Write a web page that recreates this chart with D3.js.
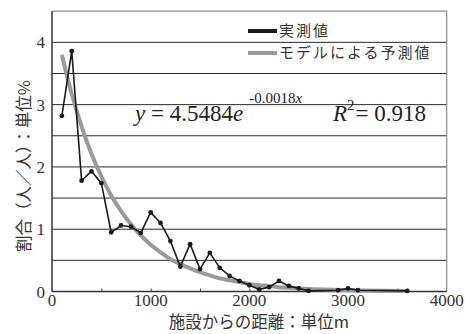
<!DOCTYPE html>
<html><head><meta charset="utf-8">
<script src="https://cdn.jsdelivr.net/npm/d3@7"></script>
<style>
html,body{margin:0;padding:0;background:#fff;}
svg{display:block;}
.serif{font-family:"Liberation Serif","Times New Roman","DejaVu Serif","Noto Serif",serif;}
.cjk{font-family:"Noto Sans CJK JP","Noto Sans CJK SC",sans-serif;}
</style></head>
<body>
<svg id="c" width="465" height="334"></svg>
<script>
// Data
const distances = [100,200,300,400,500,600,700,800,900,1000,1100,1200,1300,1400,1500,1600,1700,1800,1900,2000,2100,2200,2300,2400,2500,2600,2900,3000,3100,3600];
const observed  = [2.82,3.86,1.78,1.93,1.74,0.95,1.06,1.04,0.94,1.27,1.10,0.81,0.40,0.76,0.36,0.62,0.38,0.25,0.17,0.10,0.035,0.07,0.17,0.09,0.05,0.01,0.02,0.05,0.02,0.01];
const predicted = [3.80,3.17,2.65,2.21,1.85,1.54,1.29,1.08,0.90,0.75,0.63,0.52,0.44,0.37,0.31,0.26,0.21,0.18,0.15,0.12,0.10,0.09,0.07,0.06,0.05,0.04,0.025,0.021,0.017,0.007];
const xTicks = [0,1000,2000,3000,4000];
const xMinorTicks = [500,1000,1500,2000,2500,3000,3500];
const yTicks = [0,1,2,3,4];
const yGrid = [0.5,1,1.5,2,2.5,3,3.5,4];
const legendLabels = ["実測値","モデルによる予測値"];
const xTitle = "施設からの距離：単位m";
const yTitle = "割合（人／人）：単位%";

const svg = d3.select("#c");
const L = 52, R = 446.7, T = 11.2, B = 291.5;
const x = d3.scaleLinear().domain([0,4000]).range([L,R]);
const y = d3.scaleLinear().domain([0,4.5]).range([B,T]);

// gridlines
svg.append("g").selectAll("line").data(yGrid).join("line")
  .attr("x1",L).attr("x2",R).attr("y1",d=>y(d)).attr("y2",d=>y(d))
  .attr("stroke","#2a2a2a").attr("stroke-width",1);

// frame top/right
svg.append("path").attr("d",`M${L},${T}H${R}V${B}`).attr("fill","none")
  .attr("stroke","#8a8a8a").attr("stroke-width",1.2);

// axes
const xAxis = d3.axisBottom(x).tickValues(xMinorTicks).tickSize(-3).tickFormat("");
const gx = svg.append("g").attr("transform",`translate(0,${B})`).call(xAxis);
gx.select(".domain").remove();
gx.selectAll("line").attr("stroke","#444");
svg.append("line").attr("x1",L).attr("x2",R).attr("y1",B).attr("y2",B).attr("stroke","#333").attr("stroke-width",1.5);
svg.append("line").attr("x1",L).attr("x2",L).attr("y1",T).attr("y2",B).attr("stroke","#333").attr("stroke-width",1.5);

// tick labels
svg.append("g").selectAll("text").data(xTicks).join("text").attr("class","serif")
  .attr("x",d=>x(d)).attr("y",306).attr("text-anchor","middle")
  .attr("font-size",17).attr("fill","#333").text(d=>d);
svg.append("g").selectAll("text").data(yTicks).join("text").attr("class","serif")
  .attr("x",45).attr("y",d=>y(d)+6).attr("text-anchor","end")
  .attr("font-size",17).attr("fill","#333").text(d=>d);

// axis titles
svg.append("text").attr("class","cjk").attr("x",259).attr("y",328).attr("text-anchor","middle")
  .attr("font-size",16.5).attr("fill","#333").text(xTitle);
svg.append("text").attr("class","cjk").attr("transform","translate(30,166) rotate(-90)").attr("text-anchor","middle")
  .attr("font-size",16.5).attr("fill","#333").text(yTitle);

// model curve
const pts = distances.map((d,i)=>[d,predicted[i]]);
svg.append("path").datum(pts)
  .attr("d",d3.line().x(d=>x(d[0])).y(d=>y(d[1])).curve(d3.curveCatmullRom.alpha(0.5)))
  .attr("fill","none").attr("stroke","#999").attr("stroke-width",4);

// observed
const obs = distances.map((d,i)=>[d,observed[i]]);
svg.append("path").datum(obs)
  .attr("d",d3.line().x(d=>x(d[0])).y(d=>y(d[1])))
  .attr("fill","none").attr("stroke","#1a1a1a").attr("stroke-width",1.6);
svg.append("g").selectAll("circle").data(obs).join("circle")
  .attr("cx",d=>x(d[0])).attr("cy",d=>y(d[1])).attr("r",2.4).attr("fill","#1a1a1a");

// legend
const lg = svg.append("g");
const lgColors = ["#1a1a1a","#999"];
legendLabels.forEach((t,i)=>{
  const yy = 31 + i*22;
  lg.append("line").attr("x1",248).attr("x2",277).attr("y1",yy).attr("y2",yy)
    .attr("stroke",lgColors[i]).attr("stroke-width",4);
  lg.append("text").attr("class","cjk").attr("x",279).attr("y",yy+5.2).attr("font-size",15)
    .attr("letter-spacing",2).attr("fill","#333").text(t);
});

// equation
const eq = svg.append("text").attr("class","serif").attr("x",135).attr("y",121).attr("font-size",23).attr("fill","#222");
eq.append("tspan").attr("font-style","italic").text("y");
eq.append("tspan").text(" = 4.5484");
eq.append("tspan").attr("font-style","italic").text("e");
eq.append("tspan").attr("font-size",15).attr("dx",6).attr("dy",-18).text("-0.0018");
eq.append("tspan").attr("font-size",15).attr("font-style","italic").text("x");
const r2 = svg.append("text").attr("class","serif").attr("x",333).attr("y",121).attr("font-size",23).attr("fill","#222");
r2.append("tspan").attr("font-style","italic").text("R");
r2.append("tspan").attr("font-size",15).attr("dy",-11).text("2");
r2.append("tspan").attr("dy",11).attr("dx",1).text("= 0.918");
</script>
</body></html>
